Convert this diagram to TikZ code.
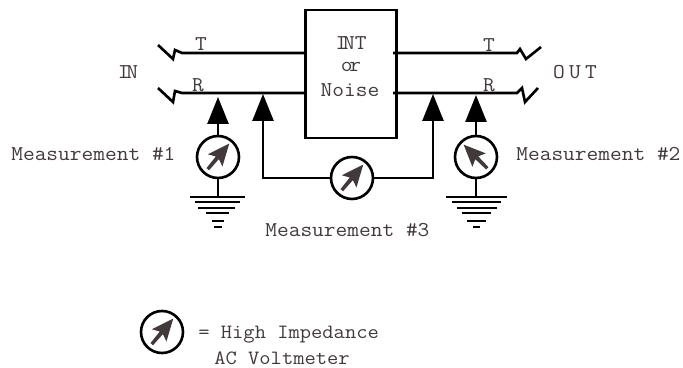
\documentclass[tikz,border=0pt]{standalone}
\usepackage{fontspec}
\setmonofont{Latin Modern Mono}[FakeStretch=1.08]
\usepackage{xcolor}
\usetikzlibrary{arrows.meta}
\definecolor{lbltext}{RGB}{66, 58, 58}

\begin{document}
\begin{tikzpicture}[
    x=0.02cm, y=-0.02cm,
    line width=1.5pt,
    box/.style={rectangle, draw, line width=1.5pt, minimum width=1.82cm, minimum height=2.56cm},
    lbl/.style={font=\ttfamily\fontsize{12pt}{14pt}\selectfont, color=lbltext, inner sep=0pt},
    small/.style={font=\ttfamily\fontsize{11.55pt}{14pt}\selectfont},
    arr/.style={-{Triangle[length=0.54cm, width=0.42cm]}},
    meter/.style={circle, draw, line width=1.5pt, fill=white, minimum size=0.84cm, inner sep=0pt,
      path picture={
        \begin{scope}[shift={(path picture bounding box.center)}]
          \fill[lbltext] (#1:0.35cm) -- ({#1+115}:0.21cm) -- ({#1+117}:0.045cm) -- ({#1+174}:0.32cm)
            -- ({#1+186}:0.32cm) -- ({#1-117}:0.045cm) -- ({#1-115}:0.21cm) -- cycle;
        \end{scope}}},
  ]
  \useasboundingbox (0,0) rectangle (683,368);

  % -- Line card --------------------------------------
  \node[box] (card) at (351, 74) {};
  \node[lbl] (int) at (351, 43) {I\kern-0.2em NT};
  \node[lbl] (orlbl) at (351, 67) {o\kern-0.15em r};
  \node[lbl] (noise) at (350, 90) {Noise};

  % -- Tip and ring -----------------------------------
  \coordinate (tinl) at (158, 45);
  \coordinate (rinl) at (158, 88);
  \coordinate (toutr) at (541, 47);
  \coordinate (routr) at (538, 88);
  \coordinate (tcard) at (393, 53);
  \coordinate (rcard) at (393, 93);

  \draw (tinl) -- (173, 59) -- (175, 50) -- (182, 53) -- (card.west |- 0, 53);
  \draw (rinl) -- (173, 102) -- (175, 91) -- (182, 93) -- (card.west |- 0, 93);
  \draw (tcard) -- (517, 53) -- (520, 49) -- (526, 59) -- (toutr);
  \draw (rcard) -- (517, 93) -- (522, 88) -- (525, 102) -- (routr);

  \node[lbl] (tleft)  at (201, 44) {T};
  \node[lbl] (rleft)  at (198, 85) {R};
  \node[lbl] (tright) at (489, 45) {T};
  \node[lbl] (rright) at (489, 85) {R};
  \node[lbl] (inlbl)  at (128, 72) {I\kern-0.15em N};
  \node[lbl] (outlbl) at (575, 72) {O\kern0.2em U\kern0.2em T};

  % -- Measurement #1 and #2 ---------------------------
  \coordinate (tapa) at (218, 97);
  \coordinate (tapb) at (476, 95);
  \coordinate (gnda) at (218, 197);
  \coordinate (gndb) at (476, 197);

  \node[meter=50] (ma) at (218, 157) {};
  \node[meter=135] (mb) at (476, 157) {};

  \draw[arr] (ma) -- (tapa);
  \draw[arr] (mb) -- (tapb);
  \draw (ma) -- (gnda);
  \draw (mb) -- (gndb);

  \foreach \y/\l/\r in {197/190/245, 202/195/240, 208/198/235, 213/206/229, 221/212/224, 227/214/222}
    \draw (\l, \y) -- (\r, \y);
  \foreach \y/\l/\r in {197/446/507, 202/452/501, 208/457/497, 213/462/491, 221/467/486, 227/473/480}
    \draw (\l, \y) -- (\r, \y);

  \node[lbl, anchor=west] (labela) at (10, 154) {Measurement \#1};
  \node[lbl, anchor=west] (labelb) at (515, 154) {Measurement \#2};

  % -- Measurement #3 ---------------------------------
  \coordinate (tapc) at (263, 94);
  \coordinate (tapd) at (433, 94);

  \node[meter=50] (mc) at (352, 178) {};

  \draw[arr] (mc) -| (tapc);
  \draw[arr] (mc) -| (tapd);

  \node[lbl, anchor=west] (labelc) at (264, 230) {Measurement \#3};

  % -- Legend -----------------------------------------
  \node[meter=50] (legend) at (162, 332) {};
  \node[lbl, small, anchor=west] (high) at (197, 335) {= High Impedance};
  \node[lbl, small, anchor=west] (volt) at (213, 358) {AC Voltmeter};

\end{tikzpicture}
\end{document}
